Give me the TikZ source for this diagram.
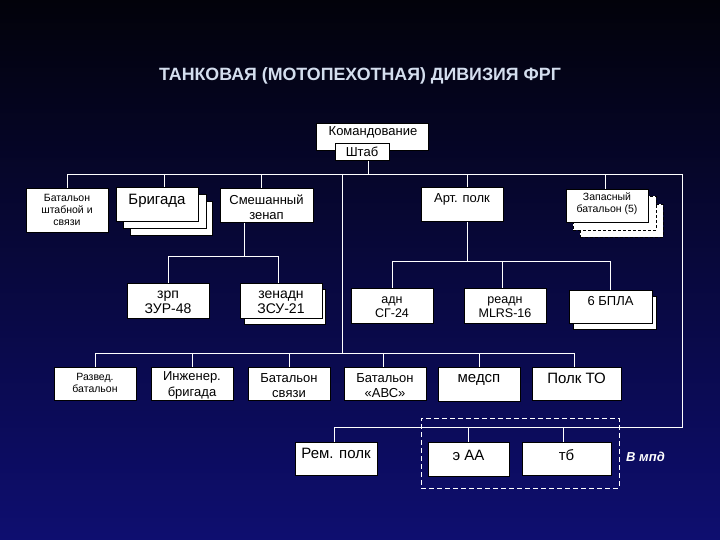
\documentclass[tikz,border=0pt]{standalone}
\usepackage{fontspec}
\setmainfont{Liberation Sans}
\usetikzlibrary{fit,calc}
\definecolor{bgtop}{RGB}{2,2,10}
\definecolor{bgmid}{RGB}{8,8,58}
\definecolor{bgbot}{RGB}{14,14,112}
\definecolor{titlec}{RGB}{212,222,238}
\tikzset{
  box/.style={draw=black, line width=0.5pt, fill=white, inner sep=0pt},
  dbox/.style={box, dash pattern=on 3pt off 2pt},
  conn/.style={draw=white, line width=0.9pt},
  lbl/.style={align=center, text=black, inner sep=0pt},
  fA/.style={font=\fontsize{10.5}{11.7}\selectfont},
  fB/.style={font=\fontsize{13}{15.5}\selectfont},
  fBt/.style={font=\fontsize{12.5}{13.5}\selectfont},
  fC/.style={font=\fontsize{14}{15}\selectfont},
  fD/.style={font=\fontsize{15}{16}\selectfont},
}
\begin{document}
\begin{tikzpicture}[x=1pt,y=-1pt]
\useasboundingbox (0,0) rectangle (720,540);
\shade[top color=bgtop, middle color=bgmid, bottom color=bgbot] (0,0) rectangle (720,540);

\node[font=\bfseries\fontsize{17.8}{20}\selectfont, text=titlec] (title) at (360,76) {ТАНКОВАЯ (МОТОПЕХОТНАЯ) ДИВИЗИЯ ФРГ};

% coordinates of buses
\coordinate (b1L) at (68,174);
\coordinate (b1R) at (682,174);
\coordinate (j1) at (342,174);
\coordinate (b3) at (96,353);
\coordinate (b4L) at (334,427);
\coordinate (b5) at (0,256);
\coordinate (b6) at (0,261);

% ---------- geometry helpers ----------
\node[inner sep=0pt, fit={(335,143)(389,160)}] (shtabG) {};
\node[inner sep=0pt, fit={(26,188)(108,232)}] (batshG) {};
\node[inner sep=0pt, fit={(116,187)(198,221)}] (brigG) {};
\node[inner sep=0pt, fit={(220,188)(313,222)}] (smeshG) {};
\node[inner sep=0pt, fit={(421,187)(503,221)}] (artG) {};
\node[inner sep=0pt, fit={(566,189)(648,222)}] (zapG) {};
\node[inner sep=0pt, fit={(127,283)(209,318)}] (zrpG) {};
\node[inner sep=0pt, fit={(240,283)(322,318)}] (zenG) {};
\node[inner sep=0pt, fit={(351,288)(433,323)}] (adnG) {};
\node[inner sep=0pt, fit={(464,288)(546,323)}] (readnG) {};
\node[inner sep=0pt, fit={(569,290)(652,323)}] (bplaG) {};
\node[inner sep=0pt, fit={(54,367)(136,400)}] (razvG) {};
\node[inner sep=0pt, fit={(151,367)(233,400)}] (inzhG) {};
\node[inner sep=0pt, fit={(248,367)(330,400)}] (svyazG) {};
\node[inner sep=0pt, fit={(344,367)(426,400)}] (avsG) {};
\node[inner sep=0pt, fit={(438,367)(520,401)}] (medspG) {};
\node[inner sep=0pt, fit={(532,367)(621,400)}] (polktoG) {};
\node[inner sep=0pt, fit={(295,442)(377,475)}] (remG) {};
\node[inner sep=0pt, fit={(428,442)(509,476)}] (eaaG) {};
\node[inner sep=0pt, fit={(522,442)(611,475)}] (tbG) {};

% ---------- connectors ----------
\draw[conn] ([xshift=6]shtabG.south) -- ([xshift=6]shtabG.south |- b1L);
\draw[conn] (b1L) -- (b1R);
\draw[conn] (batshG.north) -- (batshG.north |- b1L);
\draw[conn] ([xshift=7]brigG.north) -- ([xshift=7]brigG.north |- b1L);
\draw[conn] ([xshift=-5.5]smeshG.north) -- ([xshift=-5.5]smeshG.north |- b1L);
\draw[conn] ([xshift=5]artG.north) -- ([xshift=5]artG.north |- b1L);
\draw[conn] ([xshift=-2]zapG.north) -- ([xshift=-2]zapG.north |- b1L);
% central trunk to lower row
\draw[conn] (j1) -- (j1 |- b3);
\draw[conn] (razvG.north |- b3) -- ([xshift=-2.5]polktoG.north |- b3);
\foreach \n/\s in {razvG/0,inzhG/0,svyazG/0,avsG/-2,medspG/0,polktoG/-2.5}
  \draw[conn] ([xshift=\s]\n.north) -- ([xshift=\s]\n.north |- b3);
% right trunk to bottom row
\draw[conn] (b1R) -- (b1R |- b4L) -- (b4L);
\draw[conn] ([xshift=-2]remG.north) -- ([xshift=-2]remG.north |- b4L);
\draw[conn] (eaaG.north) -- (eaaG.north |- b4L);
\draw[conn] ([xshift=-3.5]tbG.north) -- ([xshift=-3.5]tbG.north |- b4L);
% zenap subtree
\draw[conn] ([xshift=-22.5]smeshG.south) -- ([xshift=-22.5]smeshG.south |- b5);
\draw[conn] (zrpG.north |- b5) -- ([xshift=-3]zenG.north |- b5);
\draw[conn] (zrpG.north) -- (zrpG.north |- b5);
\draw[conn] ([xshift=-3]zenG.north) -- ([xshift=-3]zenG.north |- b5);
% art subtree
\draw[conn] ([xshift=5]artG.south) -- ([xshift=5]artG.south |- b6);
\draw[conn] (adnG.north |- b6) -- (bplaG.north |- b6);
\foreach \n/\s in {adnG/0,readnG/-3,bplaG/0}
  \draw[conn] ([xshift=\s]\n.north) -- ([xshift=\s]\n.north |- b6);

% ---------- boxes ----------
\node[box, fit={(316,123)(428,150)}] (kom) {};
\node[lbl, fB] (komT) at (373,132) {Командование};
\node[box, fit={(335,143)(389,160)}] (shtab) {};
\node[lbl, fB] (shtabT) at (362,151.5) {Штаб};

\node[box, fit={(26,188)(108,232)}] (batsh) {};
\node[lbl, fA] (batshT) at (67,210) {Батальон\\штабной и\\связи};

\node[box, fit={(130,201)(212,235)}] (brig3) {};
\node[box, fit={(123,194)(206,228)}] (brig2) {};
\node[box, fit={(116,187)(198,221)}] (brig) {};
\node[lbl, fD] (brigT) at (157,201) {Бригада};

\node[box, fit={(220,188)(313,222)}] (smesh) {};
\node[lbl, fB] (smeshT) at (266.5,207) {Смешанный\\зенап};

\node[box, fit={(421,187)(503,221)}] (art) {};
\node[lbl, fB] (artT) at (462,199) {Арт. полк};

\node[dbox, fit={(580,204)(663,237)}] (zap3) {};
\node[dbox, fit={(573,196)(656,230)}] (zap2) {};
\node[box, fit={(566,189)(648,222)}] (zap) {};
\node[lbl, fA] (zapT) at (607,204) {Запасный\\батальон (5)};

\node[box, fit={(127,283)(209,318)}] (zrp) {};
\node[lbl, fC] (zrpT) at (168,302.5) {зрп\\ЗУР-48};

\node[box, fit={(244,289)(325,324)}] (zenS) {};
\node[box, fit={(240,283)(322,318)}] (zen) {};
\node[lbl, fC] (zenT) at (281,302.5) {зенадн\\ЗСУ-21};

\node[box, fit={(351,288)(433,323)}] (adn) {};
\node[lbl, fBt] (adnT) at (392,307) {адн\\СГ-24};

\node[box, fit={(464,288)(546,323)}] (readn) {};
\node[lbl, fBt] (readnT) at (505,307) {реадн\\MLRS-16};

\node[box, fit={(573,296)(656,329)}] (bplaS) {};
\node[box, fit={(569,290)(652,323)}] (bpla) {};
\node[lbl, fB] (bplaT) at (610.5,301) {6 БПЛА};

\node[box, fit={(54,367)(136,400)}] (razv) {};
\node[lbl, fA] (razvT) at (95,383) {Развед.\\батальон};

\node[box, fit={(151,367)(233,400)}] (inzh) {};
\node[lbl, fB] (inzhT) at (192,385.5) {Инженер.\\бригада};

\node[box, fit={(248,367)(330,400)}] (svyaz) {};
\node[lbl, fB] (svyazT) at (289,385.5) {Батальон\\связи};

\node[box, fit={(344,367)(426,400)}] (avs) {};
\node[lbl, fB] (avsT) at (385,385.5) {Батальон\\«АВС»};

\node[box, fit={(438,367)(520,401)}] (medsp) {};
\node[lbl, fD] (medspT) at (479,380) {медсп};

\node[box, fit={(532,367)(621,400)}] (polkto) {};
\node[lbl, fD] (polktoT) at (576.5,378) {Полк ТО};

\node[box, fit={(295,442)(377,475)}] (rem) {};
\node[lbl, fD] (remT) at (336,453) {Рем. полк};

\node[draw=white, line width=0.9pt, dash pattern=on 5pt off 3pt, inner sep=0pt, fit={(421,418)(619,488)}] (mpd) {};

\node[box, fit={(428,442)(509,476)}] (eaa) {};
\node[lbl, fD] (eaaT) at (468.5,455) {э АА};

\node[box, fit={(522,442)(611,475)}] (tb) {};
\node[lbl, fD] (tbT) at (566.5,455) {тб};

\node[text=white, font=\bfseries\itshape\fontsize{13}{15}\selectfont, anchor=west, inner sep=0pt] (mpdT) at (626,457) {В мпд};
\end{tikzpicture}
\end{document}
